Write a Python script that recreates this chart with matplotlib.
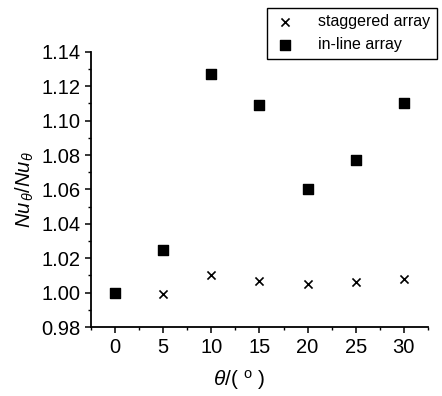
import matplotlib
matplotlib.use("Agg")
import matplotlib.pyplot as plt
from matplotlib.ticker import MultipleLocator

plt.rcParams['font.family'] = ['Liberation Sans', 'DejaVu Sans']
plt.rcParams['mathtext.fontset'] = 'custom'
plt.rcParams['mathtext.it'] = 'Liberation Sans:italic'
plt.rcParams['mathtext.rm'] = 'Liberation Sans'

angles = [0, 5, 10, 15, 20, 25, 30]
staggered = [1.000, 0.999, 1.010, 1.007, 1.005, 1.006, 1.008]
inline = [1.000, 1.025, 1.127, 1.109, 1.060, 1.077, 1.110]

fig = plt.figure(figsize=(4.42, 3.96), dpi=100)
ax = fig.add_axes([0.206, 0.174, 0.762, 0.695])

ax.scatter(angles, staggered, marker='x', s=34, color='black', linewidths=1.2, label='staggered array', zorder=3)
ax.scatter(angles, inline, marker='s', s=42, color='black', label='in-line array', zorder=3)

ax.set_xlim(-2.5, 32.5)
ax.set_ylim(0.98, 1.14)
ax.set_xticks(angles)
ax.set_yticks([0.98, 1.00, 1.02, 1.04, 1.06, 1.08, 1.10, 1.12, 1.14])
ax.yaxis.set_major_formatter(matplotlib.ticker.FormatStrFormatter('%.2f'))
ax.xaxis.set_minor_locator(MultipleLocator(2.5))
ax.yaxis.set_minor_locator(MultipleLocator(0.01))
ax.tick_params(which='major', direction='out', length=4, width=1.1, labelsize=14.5)
ax.tick_params(which='minor', direction='out', length=2.5, width=1)
ax.spines['top'].set_visible(False)
ax.spines['right'].set_visible(False)
ax.spines['left'].set_linewidth(1.3)
ax.spines['bottom'].set_linewidth(1.3)

ax.set_xlabel(r'$\theta$/( $^{\mathrm{o}}$ )', fontsize=15, labelpad=10)
ax.xaxis.set_label_coords(0.44, -0.15)
ax.set_ylabel(r'$Nu_{\,\theta}/Nu_{\theta}$', fontsize=14.5, labelpad=4)

leg = fig.legend(loc='upper left', bbox_to_anchor=(0.604, 0.98), fontsize=11.5,
                 frameon=True, fancybox=False, edgecolor='black', framealpha=1,
                 handletextpad=1.3, borderpad=0.4, labelspacing=0.5, handlelength=1.5,
                 borderaxespad=0)
leg.get_frame().set_linewidth(1.0)

fig.savefig('out.png', dpi=100)
